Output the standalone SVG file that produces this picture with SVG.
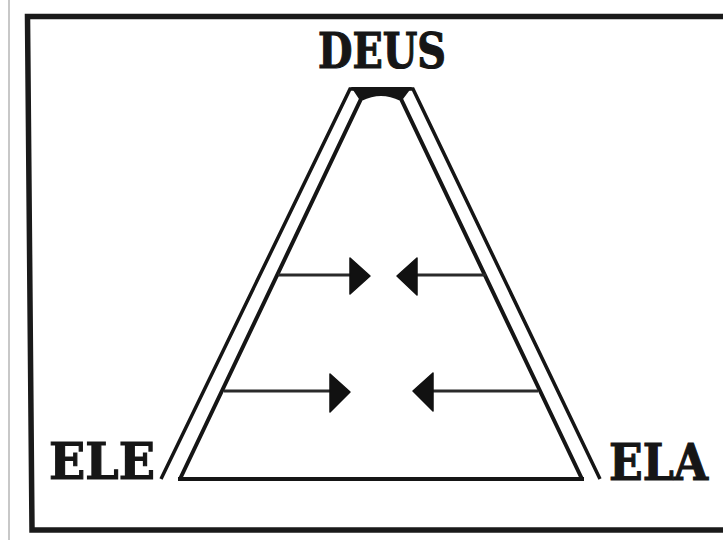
<svg xmlns="http://www.w3.org/2000/svg" width="723" height="540" viewBox="0 0 723 540">
  <style>
    .lbl { font-family: "DejaVu Serif", "Liberation Serif", serif; font-weight: bold; fill: #161616; stroke: #161616; stroke-width: 1.2; }
    .frame { fill: none; stroke: #1a1a1a; stroke-width: 5.5; }
    .edge { fill: none; stroke: #151515; stroke-linejoin: miter; }
    .shaft { fill: none; stroke: #2a2a2a; stroke-width: 3; }
    .head { fill: #111; stroke: #111; stroke-width: 1.5; stroke-linejoin: round; }
  </style>
  <rect width="723" height="540" fill="#ffffff"/>
  <line x1="9" y1="0" x2="9" y2="540" stroke="#c8c8c8" stroke-width="2"/>
  <path class="frame" d="M730,16.5 L27.5,16.5 L32,530 L730,530"/>

  <g id="pyramid">
    <path class="edge" stroke-width="3.5" d="M161,479 L350,89 L413,89 L600,479"/>
    <path class="edge" stroke-width="4" d="M180,479 L361,99 Q381,89 401,99 L582,479"/>
    <path fill="#151515" d="M351,87 L412,87 L403,99 Q381,88 359,99 Z"/>
    <line class="edge" stroke-width="4" x1="178" y1="479" x2="584" y2="479"/>
  </g>

  <g id="DEUS">
    <text class="lbl" x="382" y="68" font-size="48" text-anchor="middle" textLength="128" lengthAdjust="spacingAndGlyphs">DEUS</text>
  </g>
  <g id="ELE">
    <text class="lbl" x="49" y="479" font-size="51" textLength="106" lengthAdjust="spacingAndGlyphs">ELE</text>
  </g>
  <g id="ELA">
    <text class="lbl" x="609" y="480" font-size="51" textLength="99" lengthAdjust="spacingAndGlyphs">ELA</text>
  </g>

  <g id="connectors">
    <line class="shaft" x1="278" y1="275" x2="352" y2="275"/>
    <polygon class="head" points="350,258 370,276 350,294"/>
    <line class="shaft" x1="415" y1="275" x2="486" y2="275"/>
    <polygon class="head" points="417,258 397,276 417,295"/>
    <line class="shaft" x1="224" y1="391" x2="332" y2="391"/>
    <polygon class="head" points="330,374 350,392 330,412"/>
    <line class="shaft" x1="431" y1="391" x2="538" y2="391"/>
    <polygon class="head" points="433,373 413,391 433,411"/>
  </g>
</svg>
